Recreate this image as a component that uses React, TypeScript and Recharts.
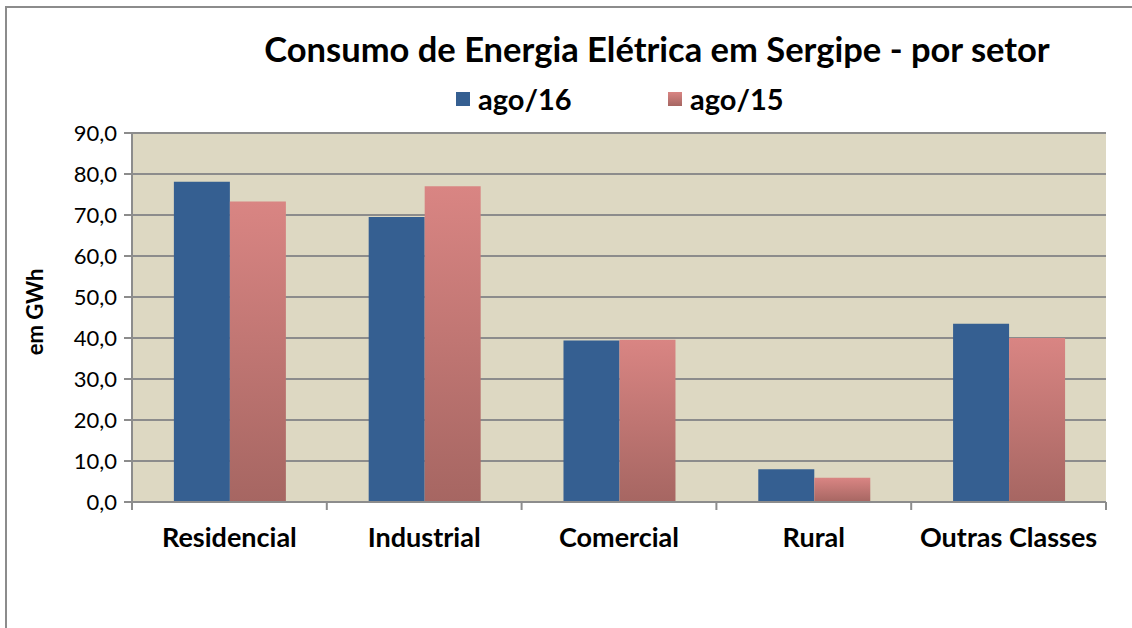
import { BarChart, Bar, XAxis, YAxis, CartesianGrid } from "recharts"

const setores = ["Residencial", "Industrial", "Comercial", "Rural", "Outras Classes"]
const ago16 = [78.1, 69.5, 39.4, 8.0, 43.5]
const ago15 = [73.3, 77.0, 39.6, 5.9, 40.0]
const yTicks = [0, 10, 20, 30, 40, 50, 60, 70, 80, 90]

const data = setores.map((setor, i) => ({ setor, ago16: ago16[i], ago15: ago15[i] }))

const font = "Lato, 'Open Sans', sans-serif"
const gridGray = "#8c8c8c"

function LegendBox({ label, fill }: { label: string; fill: string }) {
  return (
    <div style={{ display: "flex", alignItems: "center", gap: 8 }}>
      <div style={{ width: 14, height: 14, background: fill }} />
      <span style={{ fontSize: 29, fontWeight: 700, color: "#000", lineHeight: "32px" }}>{label}</span>
    </div>
  )
}

// category label plus a tick mark on the band's left edge (and right edge for the last one)
function CategoryTick(props: any) {
  const { x, y, payload, index } = props
  const half = payload.offset ?? 0
  const axisY = y - 26
  const last = index === setores.length - 1
  return (
    <g>
      <line x1={x - half} x2={x - half} y1={axisY} y2={axisY + 8} stroke={gridGray} strokeWidth={2} />
      {last && <line x1={x + half} x2={x + half} y1={axisY} y2={axisY + 8} stroke={gridGray} strokeWidth={2} />}
      <text x={x} y={y} dy="0.71em" textAnchor="middle" fontSize={27} fontWeight={700} fill="#000" fontFamily={font}>
        {payload.value}
      </text>
    </g>
  )
}

export default function App() {
  return (
    <div style={{ position: "absolute", left: 0, top: 0, width: 1132, height: 628, background: "#fff", overflow: "hidden", fontFamily: font }}>
      <div
        style={{
          position: "absolute",
          left: 5,
          top: 6,
          width: 1140,
          height: 640,
          borderLeft: "2px solid " + gridGray,
          borderTop: "2px solid " + gridGray,
        }}
      />
      <div
        style={{
          position: "absolute",
          left: 0,
          width: 1314,
          top: 28,
          textAlign: "center",
          fontWeight: 700,
          fontSize: 34.5,
          lineHeight: "42px",
          color: "#000",
        }}
      >
        Consumo de Energia Elétrica em Sergipe - por setor
      </div>
      <div style={{ position: "absolute", left: 456, top: 83 }}>
        <LegendBox label="ago/16" fill="#355F91" />
      </div>
      <div style={{ position: "absolute", left: 668, top: 83 }}>
        <LegendBox label="ago/15" fill="linear-gradient(#D98583, #A66662)" />
      </div>
      <div
        style={{
          position: "absolute",
          left: 34,
          top: 312,
          transform: "translate(-50%, -50%) rotate(-90deg)",
          fontWeight: 700,
          fontSize: 22,
          whiteSpace: "nowrap",
        }}
      >
        em GWh
      </div>
      <div style={{ position: "absolute", left: 0, top: 0 }}>
        <BarChart
          width={1132}
          height={628}
          data={data}
          margin={{ top: 133, right: 26, bottom: 65, left: 0 }}
          barCategoryGap="21.5%"
          barGap={0}
        >
          <defs>
            <linearGradient id="pinkGrad" x1="0" y1="0" x2="0" y2="1">
              <stop offset="0%" stopColor="#D98583" />
              <stop offset="100%" stopColor="#A66662" />
            </linearGradient>
          </defs>
          <CartesianGrid vertical={false} stroke={gridGray} strokeWidth={2} fill="#DDD8C2" />
          <XAxis
            dataKey="setor"
            tickLine={false}
            axisLine={{ stroke: gridGray, strokeWidth: 2 }}
            tick={<CategoryTick />}
            tickSize={6}
            tickMargin={20}
            interval={0}
            height={61}
          />
          <YAxis
            domain={[0, 90]}
            ticks={yTicks}
            tickFormatter={(v: number) => v.toFixed(1).replace(".", ",")}
            tick={{ fontSize: 22, fill: "#000", fontFamily: font }}
            axisLine={{ stroke: gridGray, strokeWidth: 2 }}
            tickLine={{ stroke: gridGray, strokeWidth: 2 }}
            tickSize={8}
            tickMargin={7}
            width={132}
          />
          <Bar dataKey="ago16" name="ago/16" fill="#355F91" isAnimationActive={false} />
          <Bar dataKey="ago15" name="ago/15" fill="url(#pinkGrad)" isAnimationActive={false} />
        </BarChart>
      </div>
    </div>
  )
}
